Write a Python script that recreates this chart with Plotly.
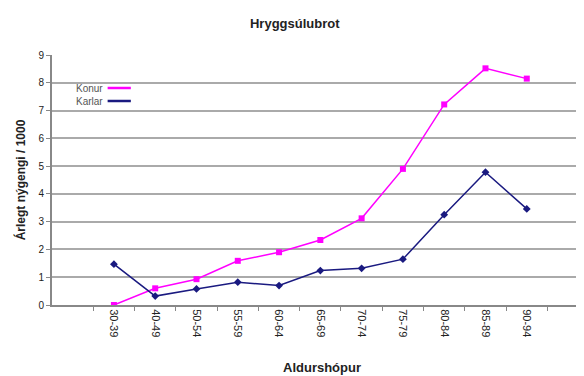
import plotly.graph_objects as go

age_groups = ["30-39", "40-49", "50-54", "55-59", "60-64", "65-69",
              "70-74", "75-79", "80-84", "85-89", "90-94"]
konur = [0.0, 0.6, 0.93, 1.59, 1.9, 2.34, 3.12, 4.9, 7.22, 8.52, 8.15]
karlar = [1.47, 0.32, 0.58, 0.82, 0.70, 1.24, 1.32, 1.65, 3.25, 4.78, 3.46]
y_ticks = list(range(0, 10))

PINK = "#FF00FF"
NAVY = "#1A1A80"
FONT = "Liberation Sans, Arial, sans-serif"

fig = go.Figure()
fig.add_trace(go.Scatter(x=age_groups, y=konur, mode="lines+markers", name="Konur",
                         line=dict(color=PINK, width=1.5),
                         marker=dict(symbol="square", size=6, color=PINK)))
fig.add_trace(go.Scatter(x=age_groups, y=karlar, mode="lines+markers", name="Karlar",
                         line=dict(color=NAVY, width=1.5),
                         marker=dict(symbol="diamond", size=6, color=NAVY)))

# legend drawn as text + line sample (text left of line, like the original)
legend_items = [("Konur", PINK, 0.868), ("Karlar", NAVY, 0.816)]
for name, color, yy in legend_items:
    fig.add_annotation(x=0.098, y=yy, xref="paper", yref="paper", text=name,
                       showarrow=False, xanchor="right", yanchor="middle",
                       font=dict(family=FONT, size=10, color="#555555"))
    fig.add_shape(type="line", xref="paper", yref="paper", x0=0.103, x1=0.146,
                  y0=yy, y1=yy, line=dict(color=color, width=2.5))

fig.update_layout(
    width=584, height=376,
    margin=dict(l=44, r=0, t=47, b=79),
    paper_bgcolor="white", plot_bgcolor="white",
    showlegend=False,
    font=dict(family=FONT, size=10, color="#222222"),
    title=dict(text="<b>Hryggsúlubrot</b>", x=0.491, xanchor="center", y=0.96,
               yanchor="middle", font=dict(family=FONT, size=13, color="#222222")),
)
fig.update_xaxes(
    type="category", categoryorder="array", categoryarray=age_groups,
    range=[-1.5, 11.58], tickangle=90, tickson="boundaries",
    ticks="outside", ticklen=4, tickcolor="#888888",
    showline=True, linecolor="#888888", linewidth=2, showgrid=False,
    tickfont=dict(family=FONT, size=11, color="#222222"),
    title=dict(text="<b>Aldurshópur</b>", standoff=27,
               font=dict(family=FONT, size=13, color="#222222")),
)
fig.update_yaxes(
    range=[0, 9], tickvals=y_ticks, ticks="outside", ticklen=4, tickcolor="#888888",
    showline=True, linecolor="#888888", linewidth=2,
    showgrid=True, gridcolor="#AAAAAA", gridwidth=2, zeroline=False,
    tickfont=dict(family=FONT, size=10, color="#222222"),
    title=dict(text="<b>Árlegt nýgengi / 1000</b>", standoff=10,
               font=dict(family=FONT, size=12, color="#222222")),
)

fig.write_html("out.html")
